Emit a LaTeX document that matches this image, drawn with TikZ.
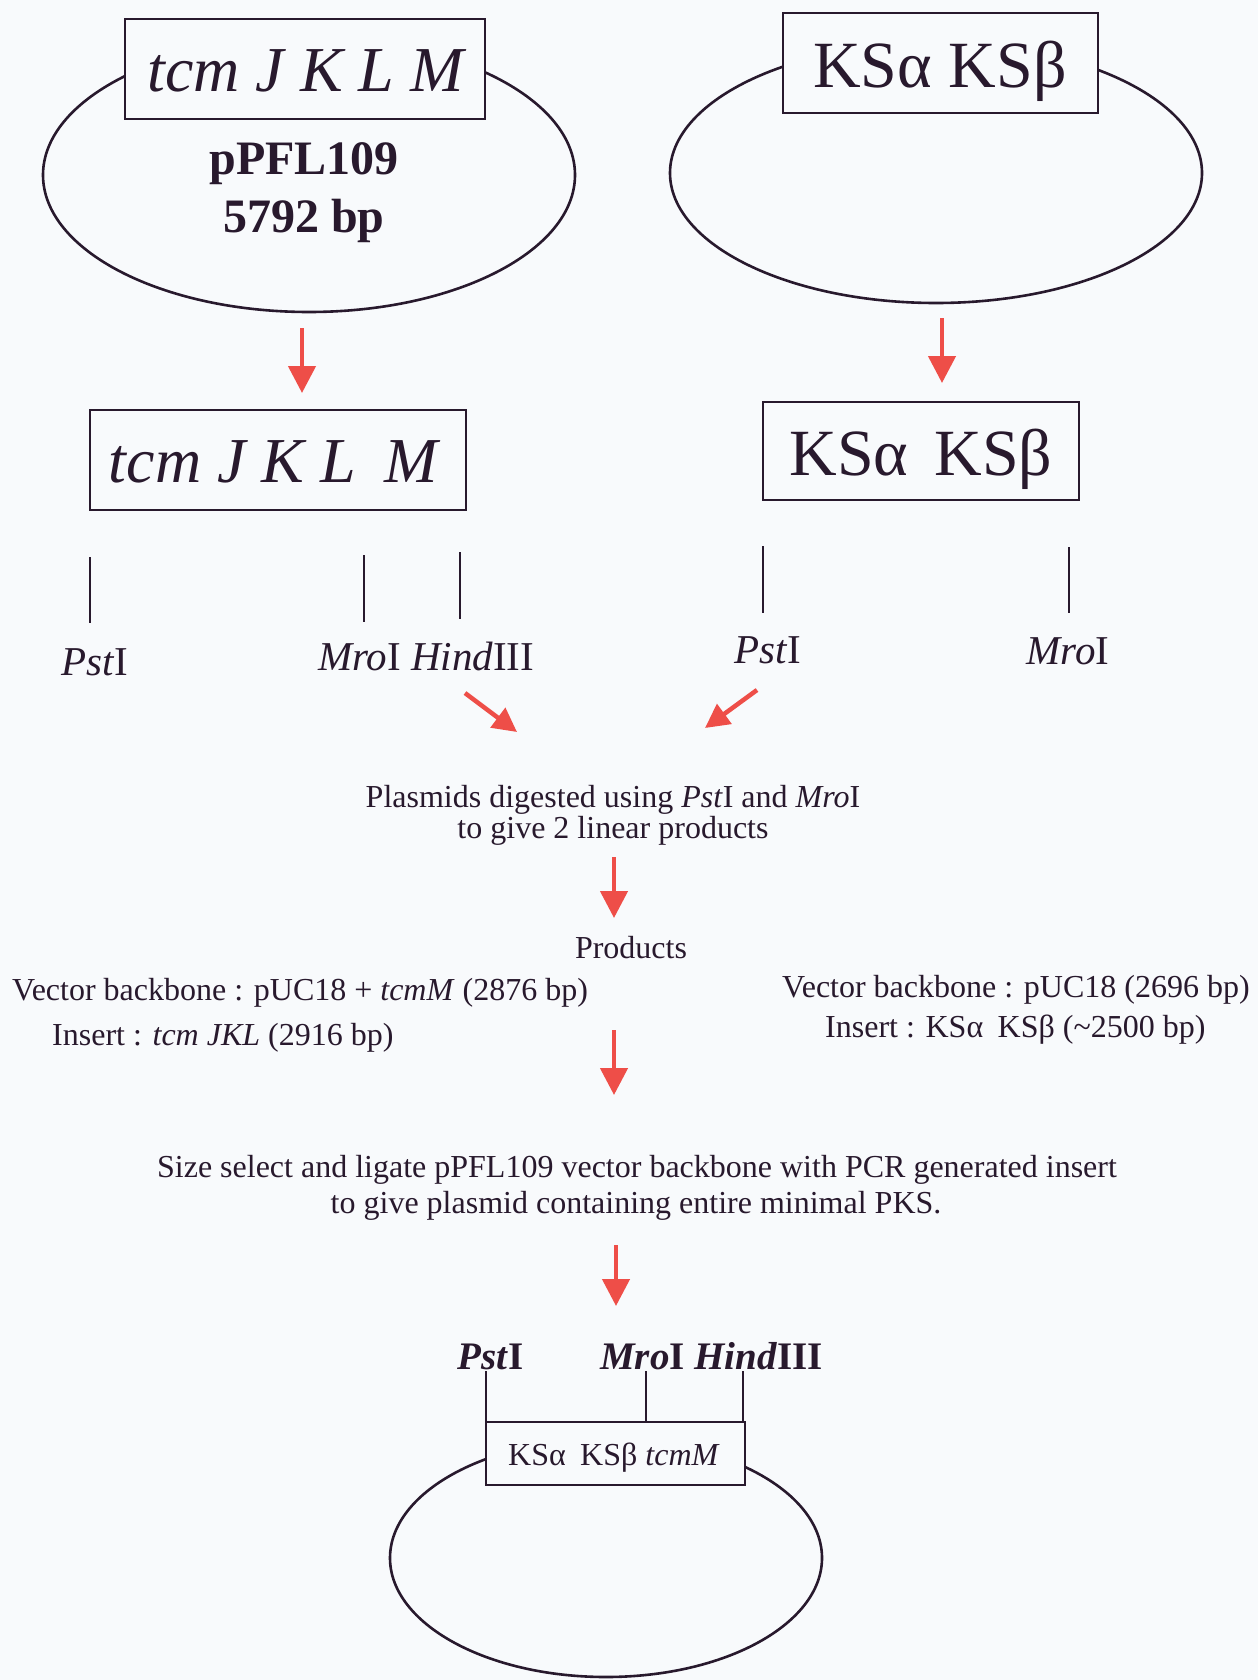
\documentclass[tikz,border=0pt]{standalone}
\usepackage{fontspec}
\setmainfont{Liberation Serif}
\usetikzlibrary{shapes.geometric,arrows.meta}
\definecolor{ink}{RGB}{40,25,45}
\definecolor{arr}{RGB}{238,78,72}
\definecolor{paper}{RGB}{248,250,252}
\newcommand{\myfs}[1]{\fontsize{#1}{#1}\selectfont}
\begin{document}
\begin{tikzpicture}[x=1pt,y=-1pt,
  oval/.style={draw=ink, line width=2.6pt, ellipse, inner sep=0pt},
  gbox/.style={draw=ink, line width=2.6pt, fill=paper, inner sep=0pt},
  txt/.style={text=ink, inner sep=0pt, anchor=base},
  txtl/.style={text=ink, inner sep=0pt, anchor=base west},
  tickline/.style={draw=ink, line width=2.4pt},
  redarr/.style={draw=arr, line width=4.5pt, -{Triangle[length=27pt,width=27pt]}},
  redarrs/.style={draw=arr, line width=4.5pt, -{Triangle[length=24pt,width=24pt]}}]
\fill[paper] (0,0) rectangle (1258,1680);
\useasboundingbox (0,0) rectangle (1258,1680);

% ---- top left plasmid
\node[oval, minimum width=532pt, minimum height=274pt] (e1) at (309,175) {};
\node[gbox, minimum width=360pt, minimum height=100pt] (b1) at (305,69) {};
\node[txt] (b1t) at (307,92) {\myfs{64}\textit{tcm J K L M}};
\node[txt] (p1) at (304,175) {\myfs{48}\textbf{pPFL109}};
\node[txt] (p2) at (304,233) {\myfs{48}\textbf{5792 bp}};

% ---- top right plasmid
\node[oval, minimum width=532pt, minimum height=260pt] (e2) at (936,173) {};
\node[gbox, minimum width=315pt, minimum height=100pt] (b2) at (940.5,63) {};
\node[txt] (b2t) at (940,88) {\myfs{66}KSα KSβ};

% ---- arrows down
\coordinate (a1s) at (302,328); \coordinate (a1e) at (302,393);
\coordinate (a2s) at (942,318); \coordinate (a2e) at (942,383);
\draw[redarr] (a1s) -- (a1e);
\draw[redarr] (a2s) -- (a2e);

% ---- linear fragments
\node[gbox, minimum width=376pt, minimum height=100pt] (b3) at (278,460) {};
\node[txt] (b3t) at (275,482) {\myfs{64}\textit{tcm J K L}\hspace{0.45em}\textit{M}};
\node[gbox, minimum width=316pt, minimum height=98pt] (b4) at (921,451) {};
\node[txt] (b4t) at (921,475) {\myfs{66}KSα\hspace{0.4em}KSβ};

% ---- ticks
\coordinate (t1a) at (90,557);  \coordinate (t1b) at (90,623);
\coordinate (t2a) at (364,555); \coordinate (t2b) at (364,622);
\coordinate (t3a) at (460,552); \coordinate (t3b) at (460,619);
\coordinate (t4a) at (763,546); \coordinate (t4b) at (763,613);
\coordinate (t5a) at (1069,547); \coordinate (t5b) at (1069,613);
\draw[tickline] (t1a) -- (t1b);
\draw[tickline] (t2a) -- (t2b);
\draw[tickline] (t3a) -- (t3b);
\draw[tickline] (t4a) -- (t4b);
\draw[tickline] (t5a) -- (t5b);

% ---- enzyme labels
\node[txtl] (l1) at (61,675) {\myfs{41}\textit{Pst}I};
\node[txtl] (l2) at (318,670) {\myfs{41}\textit{Mro}I \textit{Hind}III};
\node[txt] (l3) at (768,663) {\myfs{41}\textit{Pst}I};
\node[txt] (l4) at (1068,664) {\myfs{41}\textit{Mro}I};

% ---- diagonal arrows
\coordinate (d1s) at (465,693); \coordinate (d1e) at (517,732);
\coordinate (d2s) at (757,690); \coordinate (d2e) at (705,728);
\draw[redarrs] (d1s) -- (d1e);
\draw[redarrs] (d2s) -- (d2e);

% ---- digestion text
\node[txt] (s1) at (613,807) {\myfs{32}Plasmids digested using \textit{Pst}I and \textit{Mro}I};
\node[txt] (s2) at (613,838) {\myfs{32}to give 2 linear products};
\coordinate (a5s) at (614,857); \coordinate (a5e) at (614,918);
\draw[redarr] (a5s) -- (a5e);
\node[txt] (pr) at (631,958) {\myfs{32}Products};

\node[txtl] (v1) at (12,1000) {\myfs{32}Vector backbone : pUC18 + \textit{tcmM} (2876 bp)};
\node[txtl] (i1) at (52,1045) {\myfs{32}Insert : \textit{tcm JKL} (2916 bp)};
\node[txtl] (v2) at (782,997) {\myfs{32}Vector backbone : pUC18 (2696 bp)};
\node[txtl] (i2) at (825,1037) {\myfs{32}Insert : KSα\hspace{0.45em}KSβ (\textasciitilde2500 bp)};

\coordinate (a6s) at (614,1030); \coordinate (a6e) at (614,1095);
\draw[redarr] (a6s) -- (a6e);

\node[txt] (s3) at (637,1177) {\myfs{32}Size select and ligate pPFL109 vector backbone with PCR generated insert};
\node[txt] (s4) at (636,1213) {\myfs{32}to give plasmid containing entire minimal PKS.};

\coordinate (a7s) at (616,1245); \coordinate (a7e) at (616,1306);
\draw[redarr] (a7s) -- (a7e);

% ---- final plasmid
\node[oval, minimum width=432pt, minimum height=238pt] (e3) at (606,1558) {};
\node[gbox, minimum width=259pt, minimum height=63pt] (b5) at (615.5,1453.5) {};
\node[txt] (b5t) at (614,1465) {\myfs{32}KSα\hspace{0.45em}KSβ \textit{tcmM}};

\node[txtl] (l5) at (457,1369) {\myfs{39}\textbf{\textit{Pst}I}};
\node[txtl] (l6) at (600,1369) {\myfs{39}\textbf{\textit{Mro}I \textit{Hind}III}};
\coordinate (t6a) at (486,1371); \coordinate (t7a) at (646,1371); \coordinate (t8a) at (743,1371);
\draw[tickline] (t6a) -- (t6a |- b5.north);
\draw[tickline] (t7a) -- (t7a |- b5.north);
\draw[tickline] (t8a) -- (t8a |- b5.north);
\end{tikzpicture}
\end{document}
